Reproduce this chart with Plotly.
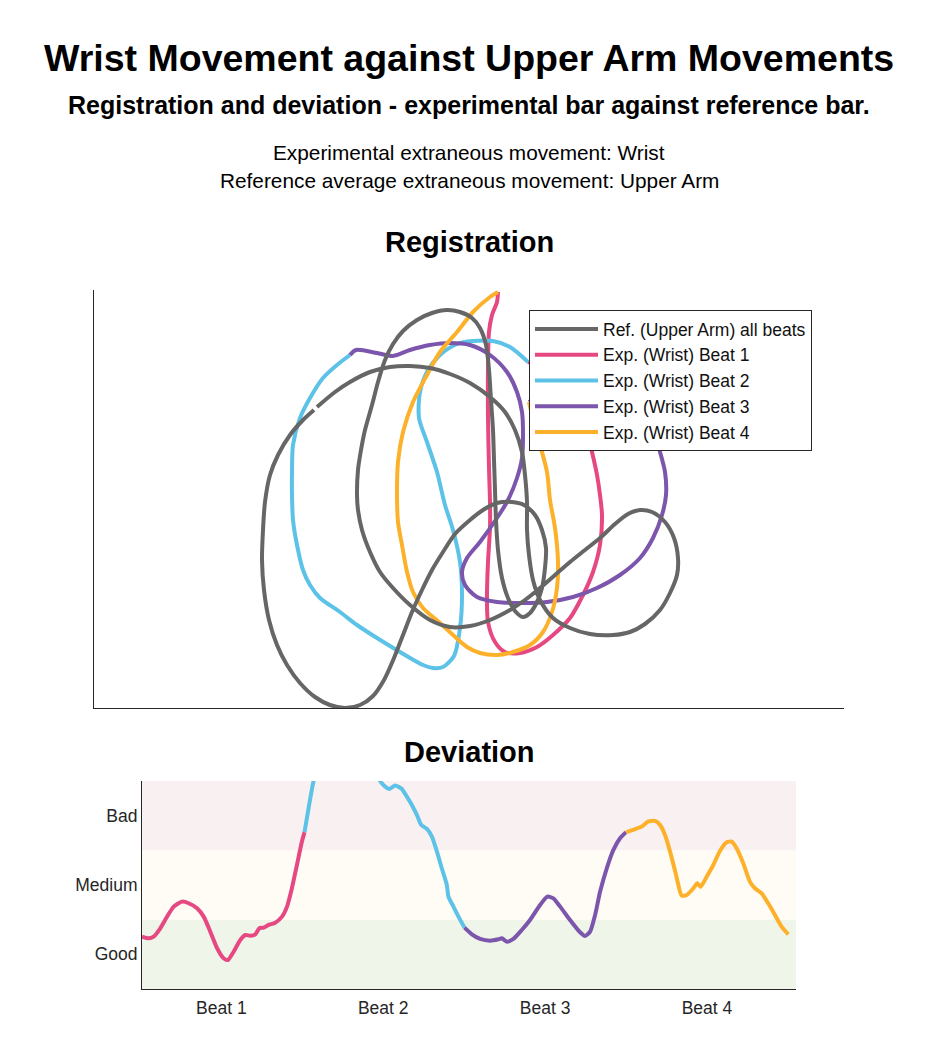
import plotly.graph_objects as go

FONT = "Liberation Sans, Arial, sans-serif"

# ---------------- Registration data (arbitrary position units) ----------------
ref_x = [223, 241, 256, 276, 296, 316, 336, 356, 376, 396, 411, 421, 428, 431, 433, 433, 435, 439, 446, 459,
         476, 496, 519, 536, 551, 566, 576, 583, 584, 580, 571, 558, 546, 534, 521, 506, 491, 476, 461, 446,
         431, 416, 396, 376, 356, 336, 316, 299, 286, 276, 268, 264, 263, 264, 267, 271, 278, 284, 291, 299,
         309, 323, 338, 353, 366, 378, 386, 392, 395, 397, 399, 400, 401, 402, 404, 408, 414, 421, 429, 436,
         443, 448, 451, 452, 448, 441, 430, 418, 403, 389, 376, 361, 349, 338, 328, 318, 309, 300, 290, 279,
         266, 251, 236, 221, 206, 193, 183, 175, 170, 168, 169, 171, 176, 184, 196, 209, 220]
ref_y = [301, 316, 326, 336, 341, 342, 340, 334, 325, 311, 296, 278, 256, 233, 206, 178, 153, 128, 108, 90,
         80, 74, 73, 76, 84, 98, 115, 133, 150, 170, 186, 196, 198, 194, 184, 170, 158, 146, 133, 120,
         108, 98, 88, 82, 81, 88, 103, 120, 136, 156, 178, 198, 213, 238, 258, 278, 303, 326, 348, 364,
         377, 388, 395, 398, 396, 390, 380, 363, 338, 308, 278, 248, 218, 188, 158, 130, 110, 97, 91, 95,
         106, 120, 140, 160, 178, 193, 203, 206, 205, 198, 188, 174, 156, 138, 118, 96, 73, 50, 28, 12,
         3, 0, 3, 11, 25, 43, 63, 88, 118, 148, 178, 206, 233, 253, 273, 288, 298]

beat1_x = [404, 403, 398, 395, 394, 394, 395, 396, 396, 394, 393, 394, 401, 411, 426, 443, 459, 476, 489, 499,
           506, 508, 506, 503, 498, 493, 484, 468, 451, 434]
beat1_y = [416, 406, 393, 376, 340, 290, 240, 206, 180, 146, 113, 86, 66, 56, 55, 61, 73, 90, 113, 136,
           163, 193, 213, 233, 256, 275, 298, 323, 338, 346]

beat2_x = [434, 416, 399, 379, 363, 346, 334, 326, 325, 333, 343, 351, 359, 366, 368, 366, 360, 349, 339, 329,
           306, 283, 263, 246, 226, 216, 209, 203, 199, 198, 198, 199, 206, 216, 229, 243, 256]
beat2_y = [346, 361, 367, 367, 364, 353, 338, 316, 290, 266, 236, 203, 178, 146, 113, 80, 52, 41, 40, 43,
           56, 70, 83, 96, 110, 123, 138, 163, 188, 213, 236, 263, 290, 310, 330, 343, 353]

beat3_x = [256, 262, 283, 299, 316, 336, 356, 376, 396, 413, 423, 428, 429, 428, 423, 414, 403, 386, 373, 368,
           371, 383, 403, 429, 453, 479, 503, 526, 546, 559, 568, 572, 571, 566, 562, 551, 526, 486, 451, 435]
beat3_y = [353, 358, 355, 352, 358, 363, 365, 363, 353, 336, 316, 296, 273, 250, 230, 208, 190, 166, 150, 136,
           123, 111, 106, 105, 106, 111, 120, 133, 150, 170, 193, 213, 236, 256, 268, 288, 308, 320, 316, 306]

beat4_x = [435, 441, 446, 453, 456, 461, 464, 463, 458, 449, 436, 419, 403, 386, 373, 359, 346, 329, 319, 313,
           308, 304, 303, 304, 309, 319, 333, 346, 363, 379, 396, 404]
beat4_y = [306, 280, 263, 236, 208, 180, 146, 120, 96, 76, 63, 56, 53, 55, 61, 73, 85, 100, 116, 136,
           163, 186, 213, 246, 276, 306, 333, 356, 376, 396, 411, 416]

# ---------------- Deviation data (x in beats, y in deviation level) ----------------
dev1_x = [0.010, 0.051, 0.082, 0.123, 0.165, 0.206, 0.257, 0.298, 0.350, 0.391, 0.432, 0.474, 0.514, 0.541,
          0.576, 0.617, 0.648, 0.679, 0.710, 0.735, 0.761, 0.792, 0.833, 0.875, 0.906, 0.936, 0.967, 0.998, 1.014]
dev1_y = [0.755, 0.731, 0.755, 0.876, 1.044, 1.188, 1.260, 1.237, 1.165, 1.044, 0.827, 0.587, 0.443, 0.418,
          0.538, 0.707, 0.779, 0.769, 0.789, 0.876, 0.885, 0.924, 0.957, 1.044, 1.188, 1.453, 1.789, 2.126, 2.262]

dev2_x = [1.014, 1.039, 1.070, 1.120, 1.200, 1.300, 1.400, 1.481, 1.512, 1.537, 1.574, 1.615, 1.646, 1.677,
          1.708, 1.735, 1.770, 1.801, 1.832, 1.862, 1.893, 1.903, 1.934, 1.965, 2.002]
dev2_y = [2.262, 2.608, 3.002, 3.400, 3.700, 3.750, 3.450, 3.000, 2.919, 2.886, 2.934, 2.886, 2.775, 2.655,
          2.511, 2.367, 2.309, 2.198, 1.981, 1.741, 1.501, 1.333, 1.188, 1.044, 0.885]

dev3_x = [2.002, 2.048, 2.099, 2.160, 2.212, 2.233, 2.264, 2.304, 2.356, 2.407, 2.469, 2.514, 2.551, 2.593,
          2.654, 2.716, 2.747, 2.778, 2.809, 2.840, 2.881, 2.922, 2.963, 3.000]
dev3_y = [0.885, 0.789, 0.722, 0.697, 0.717, 0.731, 0.683, 0.722, 0.851, 0.996, 1.212, 1.332, 1.308, 1.188,
          0.996, 0.818, 0.765, 0.827, 1.068, 1.405, 1.741, 2.006, 2.174, 2.262]

dev4_x = [3.000, 3.045, 3.097, 3.138, 3.179, 3.210, 3.241, 3.272, 3.309, 3.344, 3.375, 3.416, 3.440, 3.461,
          3.498, 3.539, 3.580, 3.622, 3.653, 3.683, 3.724, 3.765, 3.796, 3.838, 3.878, 3.920, 3.961, 4.002]
dev4_y = [2.262, 2.295, 2.343, 2.416, 2.424, 2.367, 2.222, 1.982, 1.645, 1.346, 1.356, 1.453, 1.525, 1.476,
          1.620, 1.789, 1.991, 2.116, 2.125, 2.029, 1.813, 1.549, 1.453, 1.380, 1.236, 1.068, 0.899, 0.789]

beat_tickvals = [0.5, 1.5, 2.5, 3.5]
beat_ticktext = ["Beat 1", "Beat 2", "Beat 3", "Beat 4"]
level_tickvals = [0.5, 1.5, 2.5]
level_ticktext = ["Good", "Medium", "Bad"]
bands = [(0, 1, "#EFF5E8"), (1, 2, "#FEFCF4"), (2, 3, "#F9F0F2")]

names = ["Exp. (Wrist) Beat 1", "Exp. (Wrist) Beat 2", "Exp. (Wrist) Beat 3", "Exp. (Wrist) Beat 4"]
colors = ["#E64882", "#5DC2E7", "#7C55AC", "#FDB12A"]
GRAY = "#666666"

fig = go.Figure()

reg = [(beat1_x, beat1_y), (beat2_x, beat2_y), (beat3_x, beat3_y), (beat4_x, beat4_y)]
for i, (xs, ys) in enumerate(reg):
    fig.add_trace(go.Scatter(x=xs, y=ys, mode="lines", name=names[i], legendrank=i + 2,
                             line=dict(color=colors[i], width=4, shape="spline", smoothing=0.8),
                             xaxis="x", yaxis="y"))
fig.add_trace(go.Scatter(x=ref_x, y=ref_y, mode="lines", name="Ref. (Upper Arm) all beats", legendrank=1,
                         line=dict(color=GRAY, width=4, shape="spline", smoothing=0.8),
                         xaxis="x", yaxis="y"))

dev = [(dev1_x, dev1_y), (dev2_x, dev2_y), (dev3_x, dev3_y), (dev4_x, dev4_y)]
for i, (xs, ys) in enumerate(dev):
    fig.add_trace(go.Scatter(x=xs, y=ys, mode="lines", showlegend=False,
                             line=dict(color=colors[i], width=4, shape="spline", smoothing=0.6),
                             xaxis="x2", yaxis="y2"))

for y0, y1, c in bands:
    fig.add_shape(type="rect", xref="x2 domain", yref="y2", x0=0, x1=1, y0=y0, y1=y1,
                  fillcolor=c, line=dict(width=0), layer="below")

W, H = 938, 1042
fig.update_layout(
    width=W, height=H, autosize=False,
    margin=dict(l=0, r=0, t=0, b=0),
    paper_bgcolor="white", plot_bgcolor="white",
    font=dict(family=FONT, color="#262626"),
    xaxis=dict(domain=[94 / W, 844 / W], range=[0, 750], showgrid=False, zeroline=False,
               showticklabels=False, ticks="", showline=True, linecolor="#262626", linewidth=1),
    yaxis=dict(domain=[1 - 708 / H, 1 - 290 / H], range=[0, 418], showgrid=False, zeroline=False,
               showticklabels=False, ticks="", showline=True, linecolor="#262626", linewidth=1),
    xaxis2=dict(domain=[142 / W, 796 / W], range=[0.01, 4.05], showgrid=False, zeroline=False,
                tickvals=beat_tickvals, ticktext=beat_ticktext, ticks="", showline=True,
                linecolor="#262626", linewidth=1, tickfont=dict(size=17.5, family=FONT, color="#262626"),
                ticklabelstandoff=3, anchor="y2"),
    yaxis2=dict(domain=[1 - 989 / H, 1 - 781 / H], range=[0, 3], showgrid=False, zeroline=False,
                tickvals=level_tickvals, ticktext=level_ticktext, ticks="", showline=True,
                linecolor="#262626", linewidth=1, tickfont=dict(size=17.5, family=FONT, color="#262626"),
                anchor="x2"),
    legend=dict(x=529 / W, y=1 - 310 / H, xanchor="left", yanchor="top", bgcolor="white",
                bordercolor="#262626", borderwidth=1, font=dict(size=17.5, family=FONT, color="#111111"),
                itemwidth=63, tracegroupgap=0),
    showlegend=True,
)

texts = [
    ("<b>Wrist Movement against Upper Arm Movements</b>", 58, 37.5),
    ("<b>Registration and deviation - experimental bar against reference bar.</b>", 105, 25),
    ("Experimental extraneous movement: Wrist", 152, 20.8),
    ("Reference average extraneous movement: Upper Arm", 180, 20.8),
    ("<b>Registration</b>", 242, 29),
    ("<b>Deviation</b>", 752, 29),
]
for t, py, sz in texts:
    fig.add_annotation(text=t, x=0.5, y=1 - py / H, xref="paper", yref="paper", showarrow=False,
                       xanchor="center", yanchor="middle", font=dict(size=sz, family=FONT, color="#000000"))

fig.write_html("out.html")
